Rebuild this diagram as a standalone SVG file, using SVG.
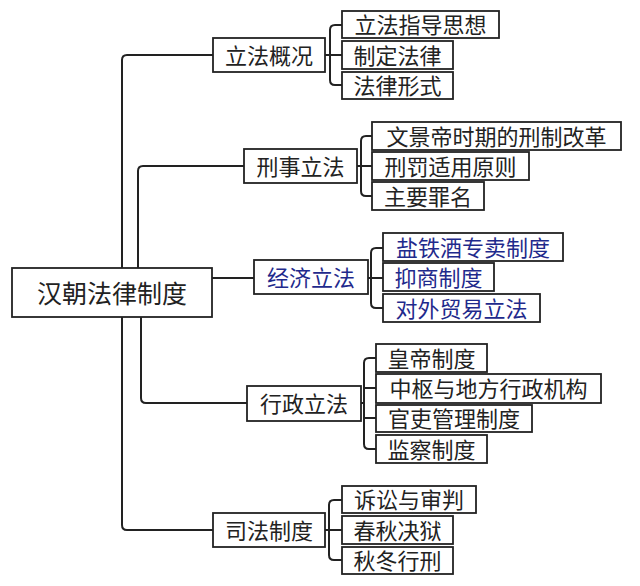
<svg xmlns="http://www.w3.org/2000/svg" width="640" height="586" viewBox="0 0 640 586">
<style>
.box{fill:#fff;stroke:#222;stroke-width:1.8}
.ln{fill:none;stroke:#222;stroke-width:2}
.t{font-family:"Noto Sans CJK SC","Noto Sans",sans-serif;font-size:22px;fill:#222;text-anchor:middle;dominant-baseline:central;transform:translateY(-1.5px)}
.b{fill:#1f2a8c}
.r{font-size:25px}
</style>
<rect width="640" height="586" fill="#fff"/>
<g id="connectors">
<path class="ln" d="M213,55 H127 Q122,55 122,60 V268"/>
<path class="ln" d="M122,317 V525 Q122,530 127,530 H213"/>
<path class="ln" d="M244,166 H143 Q138,166 138,171 V268"/>
<path class="ln" d="M141,317 V398 Q141,403 146,403 H247"/>
<path class="ln" d="M212,278 H254"/>
<path class="ln" d="M325,55 H342 M342,25 H335 Q330,25 330,30 V80 Q330,85 335,85 H342"/>
<path class="ln" d="M357,166 H372 M372,136 H366 Q361,136 361,141 V191 Q361,196 366,196 H372"/>
<path class="ln" d="M368,278 H383 M383,248 H376 Q371,248 371,253 V303 Q371,308 376,308 H383"/>
<path class="ln" d="M361,403 H364 M376,358 H369 Q364,358 364,363 V444 Q364,449 369,449 H376 M364,388 H376 M364,418 H376"/>
<path class="ln" d="M325,530 H342 M342,500 H334 Q329,500 329,505 V555 Q329,560 334,560 H342"/>
</g>
<g id="root"><rect class="box" x="12" y="268" width="200" height="49"/><text class="t r" x="112" y="293">汉朝法律制度</text></g>
<g id="n1"><rect class="box" x="213" y="38" width="112" height="34"/><text class="t" x="269" y="55">立法概况</text></g>
<g id="n1a"><rect class="box" x="342" y="11" width="157" height="27"/><text class="t" x="420.5" y="24.5">立法指导思想</text></g>
<g id="n1b"><rect class="box" x="342" y="41" width="111" height="28"/><text class="t" x="397.5" y="55">制定法律</text></g>
<g id="n1c"><rect class="box" x="342" y="72" width="111" height="27"/><text class="t" x="397.5" y="85.5">法律形式</text></g>
<g id="n2"><rect class="box" x="244" y="149" width="113" height="34"/><text class="t" x="300.5" y="166">刑事立法</text></g>
<g id="n2a"><rect class="box" x="372" y="122" width="249" height="28"/><text class="t" x="496.5" y="136">文景帝时期的刑制改革</text></g>
<g id="n2b"><rect class="box" x="372" y="152" width="157" height="28"/><text class="t" x="450.5" y="166">刑罚适用原则</text></g>
<g id="n2c"><rect class="box" x="372" y="182" width="112" height="28"/><text class="t" x="428" y="196">主要罪名</text></g>
<g id="n3"><rect class="box" x="254" y="260" width="114" height="34"/><text class="t b" x="311" y="277">经济立法</text></g>
<g id="n3a"><rect class="box" x="383" y="233" width="180" height="28"/><text class="t b" x="473" y="247">盐铁酒专卖制度</text></g>
<g id="n3b"><rect class="box" x="383" y="263" width="111" height="28"/><text class="t b" x="438.5" y="277">抑商制度</text></g>
<g id="n3c"><rect class="box" x="383" y="294" width="157" height="28"/><text class="t b" x="461.5" y="308">对外贸易立法</text></g>
<g id="n4"><rect class="box" x="247" y="386" width="114" height="35"/><text class="t" x="304" y="403.5">行政立法</text></g>
<g id="n4a"><rect class="box" x="376" y="344" width="111" height="28"/><text class="t" x="431.5" y="358">皇帝制度</text></g>
<g id="n4b"><rect class="box" x="376" y="374" width="225" height="29"/><text class="t" x="488.5" y="388.5">中枢与地方行政机构</text></g>
<g id="n4c"><rect class="box" x="376" y="405" width="156" height="27"/><text class="t" x="454" y="418.5">官吏管理制度</text></g>
<g id="n4d"><rect class="box" x="376" y="435" width="111" height="28"/><text class="t" x="431.5" y="449">监察制度</text></g>
<g id="n5"><rect class="box" x="213" y="513" width="112" height="34"/><text class="t" x="269" y="530">司法制度</text></g>
<g id="n5a"><rect class="box" x="342" y="486" width="134" height="27"/><text class="t" x="409" y="499.5">诉讼与审判</text></g>
<g id="n5b"><rect class="box" x="342" y="516" width="111" height="28"/><text class="t" x="397.5" y="530">春秋决狱</text></g>
<g id="n5c"><rect class="box" x="342" y="547" width="111" height="27"/><text class="t" x="397.5" y="560.5">秋冬行刑</text></g>
</svg>
